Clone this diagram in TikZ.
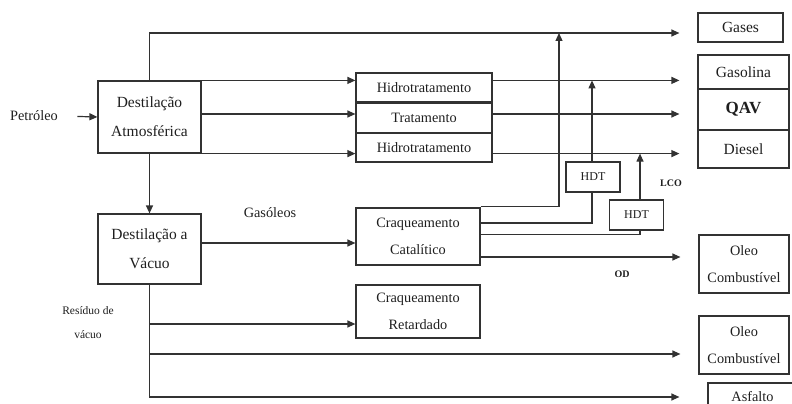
\documentclass[tikz,border=0pt]{standalone}
\usepackage{fontspec}
\setmainfont{Liberation Serif}
\usetikzlibrary{arrows.meta}
\definecolor{line1}{RGB}{50,50,50}
\definecolor{text1}{RGB}{30,30,30}

\begin{document}
\begin{tikzpicture}[x=1pt,y=-1pt,text=text1,
  unit/.style={draw=line1,line width=1.2pt,inner sep=0pt,align=center},
  flow/.style={draw=line1,line width=1.2pt,-{Triangle[length=8pt,width=7pt]}},
  pipe/.style={draw=line1,line width=1.2pt},
  big/.style={font=\fontsize{15.5}{29}\selectfont},
  mid/.style={font=\fontsize{14.3}{27}\selectfont},
  small/.style={font=\fontsize{12}{24}\selectfont}]
  \useasboundingbox (0,0) rectangle (792,404);

  %feed and distillation
  \node[mid] (petroleo) at (34,116) {Petróleo};
  \node[unit,big,minimum width=103pt,minimum height=72pt] (da) at (149.5,117) {Destilação\\Atmosférica};
  \node[unit,big,minimum width=103pt,minimum height=70pt] (dv) at (149.5,249) {Destilação a\\Vácuo};

  %treatments
  \node[unit,mid,minimum width=136pt,minimum height=29pt] (hidroA) at (424,87.5) {Hidrotratamento};
  \node[unit,mid,minimum width=136pt,minimum height=30pt] (trat) at (424,118) {Tratamento};
  \node[unit,mid,minimum width=136pt,minimum height=29pt] (hidroB) at (424,147.5) {Hidrotratamento};
  \node[unit,mid,minimum width=124pt,minimum height=57pt] (cc) at (418,236.5) {Craqueamento\\Catalítico};
  \node[unit,mid,minimum width=124pt,minimum height=53pt] (cr) at (418,311.5) {Craqueamento\\Retardado};
  \node[unit,small,minimum width=54pt,minimum height=30pt] (hdtA) at (593,177) {HDT};
  \node[unit,small,minimum width=54pt,minimum height=30pt] (hdtB) at (636.5,215) {HDT};

  %products
  \node[unit,big,minimum width=85pt,minimum height=29pt] (gases) at (740.5,27.5) {Gases};
  \node[unit,big,minimum width=91pt,minimum height=34pt] (gasolina) at (743.5,72) {Gasolina};
  \node[unit,font=\bfseries\fontsize{17}{20}\selectfont,minimum width=91pt,minimum height=41pt] (qav) at (743.5,109.5) {QAV};
  \node[unit,big,minimum width=91pt,minimum height=38pt] (diesel) at (743.5,149) {Diesel};
  \node[unit,mid,minimum width=90pt,minimum height=58pt] (oleoA) at (744,264) {Oleo\\Combustível};
  \node[unit,mid,minimum width=90pt,minimum height=58pt] (oleoB) at (744,345) {Oleo\\Combustível};
  \node[unit,mid,minimum width=89pt,minimum height=28pt] (asfalto) at (752.5,397) {Asfalto};

  %labels
  \node[mid] (gasoleos) at (270,213) {Gasóleos};
  \node[font=\bfseries\fontsize{10}{12}\selectfont] (lco) at (671,183) {LCO};
  \node[font=\bfseries\fontsize{10}{12}\selectfont] (od) at (622,274) {OD};
  \node[font=\fontsize{11.5}{24}\selectfont,align=center] (residuo) at (88,323) {Resíduo de\\vácuo};

  %atmospheric
  \draw[flow,shorten <=16pt] (petroleo.east) -- (da.west);
  \draw[flow,shorten >=18pt] (da.north) |- ([yshift=-5.5pt]gases.west);
  \draw[flow] (da.north east) -- (da.north east -| hidroA.west);
  \draw[flow] ([yshift=3pt]da.east) -- ([yshift=3pt]da.east -| trat.west);
  \draw[flow] (da.south east) -- (da.south east -| hidroB.west);
  \draw[flow] (da.south) -- (dv.north);
  \draw[flow,shorten >=18pt] (hidroA.east |- da.north east) -- (gasolina.west |- da.north east);
  \draw[flow,shorten >=18pt] ([yshift=3pt]trat.east |- da.east) -- ([yshift=3pt]qav.west |- da.east);
  \draw[flow,shorten >=18pt] (hidroB.east |- da.south east) -- (diesel.west |- da.south east);

  %vacuum
  \draw[flow] ([yshift=6pt]dv.east) -- ([yshift=6pt]dv.east -| cc.west);
  \draw[flow,shorten >=28pt] (dv.south) |- (asfalto.west);
  \draw[flow] ([yshift=-12.5pt]cr.west -| dv.south) -- ([yshift=-12.5pt]cr.west);
  \draw[flow,shorten >=18pt] ([yshift=-9pt]oleoB.west -| dv.south) -- ([yshift=-9pt]oleoB.west);

  %catalytic cracking
  \coordinate (riser) at (559,33);
  \draw[flow] ([yshift=1pt]cc.north east) -| (riser);
  \draw[pipe] ([yshift=13.5pt]cc.east) -| ([xshift=-1pt]hdtA.south);
  \draw[flow] ([xshift=-1pt]hdtA.north) -- ([xshift=-1pt]hdtA.north |- da.north east);
  \draw[pipe] ([yshift=2pt]cc.east) -| ([xshift=3.5pt]hdtB.south);
  \draw[flow] ([xshift=3.5pt]hdtB.north) -- ([xshift=3.5pt]hdtB.north |- da.south east);
  \draw[flow,shorten >=18pt] ([yshift=-20.5pt]cc.east) -- ([yshift=-20.5pt]cc.east -| oleoA.west);
\end{tikzpicture}
\end{document}
